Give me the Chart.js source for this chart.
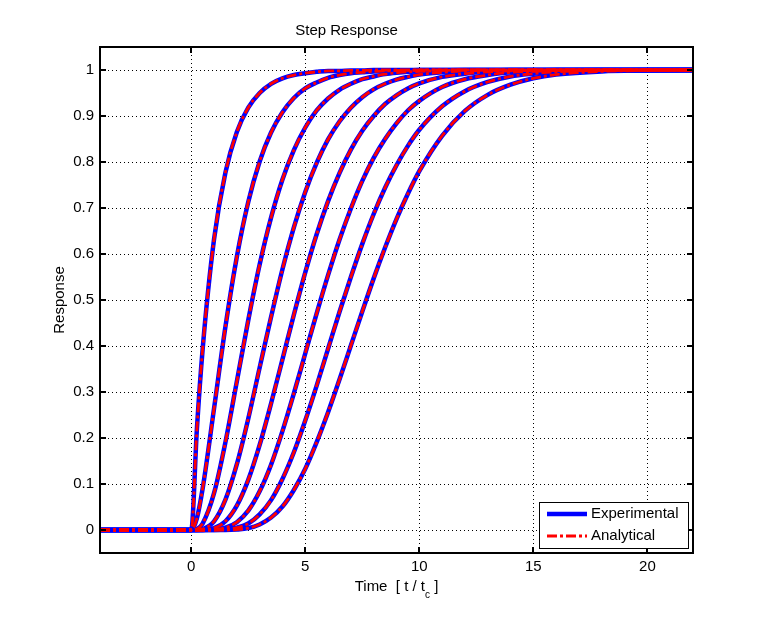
<!DOCTYPE html>
<html>
<head>
<meta charset="utf-8">
<script src="https://cdn.jsdelivr.net/npm/chart.js@4.4.1/dist/chart.umd.min.js"></script>
<style>
  html, body { margin: 0; padding: 0; background: #fff; }
  #wrap { width: 767px; height: 623px; }
</style>
</head>
<body>
<div id="wrap"><canvas id="stepChart" width="767" height="623"></canvas></div>
<script>
// time axis [t / tc], shared by all curves
var time = [-4, 0, 0.25, 0.5, 1, 1.5, 2, 2.5, 3, 3.5, 4, 4.5, 5, 5.5, 6, 6.5, 7, 7.5, 8, 8.5, 9, 9.5, 10, 11, 12, 13, 14, 15, 16, 18, 20, 22];

// step responses (experimental and analytical coincide)
var response1 = [0, 0, 0.221, 0.393, 0.632, 0.777, 0.865, 0.918, 0.950, 0.970, 0.982, 0.989, 0.993, 0.996, 0.998, 0.998, 0.999, 0.999, 1, 1, 1, 1, 1, 1, 1, 1, 1, 1, 1, 1, 1, 1];
var response2 = [0, 0, 0.026, 0.090, 0.264, 0.442, 0.594, 0.713, 0.801, 0.864, 0.908, 0.939, 0.960, 0.973, 0.983, 0.989, 0.993, 0.995, 0.997, 0.998, 0.999, 0.999, 1, 1, 1, 1, 1, 1, 1, 1, 1, 1];
var response3 = [0, 0, 0.002, 0.014, 0.080, 0.191, 0.323, 0.456, 0.577, 0.679, 0.762, 0.826, 0.875, 0.912, 0.938, 0.957, 0.970, 0.980, 0.986, 0.991, 0.994, 0.996, 0.997, 0.999, 1, 1, 1, 1, 1, 1, 1, 1];
var response4 = [0, 0, 0, 0.002, 0.019, 0.066, 0.143, 0.242, 0.353, 0.463, 0.567, 0.658, 0.735, 0.798, 0.849, 0.888, 0.918, 0.941, 0.958, 0.970, 0.979, 0.985, 0.990, 0.995, 0.998, 0.999, 1, 1, 1, 1, 1, 1];
var response5 = [0, 0, 0, 0, 0.004, 0.019, 0.053, 0.109, 0.185, 0.275, 0.371, 0.468, 0.560, 0.643, 0.715, 0.776, 0.827, 0.868, 0.900, 0.926, 0.945, 0.960, 0.971, 0.985, 0.992, 0.996, 0.998, 0.999, 1, 1, 1, 1];
var response6 = [0, 0, 0, 0, 0.001, 0.005, 0.017, 0.042, 0.084, 0.142, 0.215, 0.297, 0.384, 0.471, 0.554, 0.631, 0.699, 0.759, 0.809, 0.850, 0.884, 0.912, 0.933, 0.963, 0.980, 0.989, 0.995, 0.997, 0.999, 1, 1, 1];
var response7 = [0, 0, 0, 0, 0, 0.001, 0.005, 0.014, 0.034, 0.065, 0.111, 0.169, 0.238, 0.314, 0.394, 0.474, 0.550, 0.622, 0.687, 0.744, 0.793, 0.835, 0.870, 0.921, 0.954, 0.974, 0.986, 0.992, 0.996, 0.999, 1, 1];
var response8 = [0, 0, 0, 0, 0, 0, 0.001, 0.004, 0.012, 0.027, 0.051, 0.087, 0.133, 0.191, 0.256, 0.327, 0.401, 0.475, 0.547, 0.614, 0.676, 0.731, 0.780, 0.857, 0.911, 0.946, 0.968, 0.982, 0.990, 0.997, 0.999, 1];

var xTicks = [0, 5, 10, 15, 20];
var yTicks = [0, 0.1, 0.2, 0.3, 0.4, 0.5, 0.6, 0.7, 0.8, 0.9, 1];

var curves = [response1, response2, response3, response4, response5, response6, response7, response8];
var FONT = '"Liberation Sans", Arial, sans-serif';

function toPoints(values) {
    return values.map(function (v, i) { return { x: time[i], y: v }; });
}

var datasets = [];
curves.forEach(function (c, i) {
    datasets.push({
        label: 'Experimental',
        data: toPoints(c),
        borderColor: '#0000ff',
        borderWidth: 4.5,
        order: 2,
        showLegend: i === 0
    });
});
curves.forEach(function (c, i) {
    datasets.push({
        label: 'Analytical',
        data: toPoints(c),
        borderColor: '#ff0000',
        borderWidth: 2.8,
        borderDash: [10, 3, 3, 3],
        order: 1,
        showLegend: i === 0
    });
});

// box, inward ticks, legend and axis labels drawn matlab-style
var matlabFrame = {
    id: 'matlabFrame',
    afterDraw: function (chart) {
        var ctx = chart.ctx, a = chart.chartArea;
        var xs = chart.scales.x, ys = chart.scales.y;
        ctx.save();
        ctx.strokeStyle = '#000';
        ctx.lineWidth = 2;
        ctx.setLineDash([]);
        ctx.strokeRect(a.left, a.top, a.right - a.left, a.bottom - a.top);
        ctx.beginPath();
        xTicks.forEach(function (v) {
            var px = Math.round(xs.getPixelForValue(v));
            ctx.moveTo(px, a.bottom); ctx.lineTo(px, a.bottom - 6);
            ctx.moveTo(px, a.top); ctx.lineTo(px, a.top + 6);
        });
        yTicks.forEach(function (v) {
            var py = Math.round(ys.getPixelForValue(v));
            ctx.moveTo(a.left, py); ctx.lineTo(a.left + 6, py);
            ctx.moveTo(a.right, py); ctx.lineTo(a.right - 6, py);
        });
        ctx.stroke();

        // legend
        var entries = chart.data.datasets.filter(function (d) { return d.showLegend; });
        var bx = a.right - 154, by = a.bottom - 51, bw = 149, bh = 46;
        ctx.fillStyle = '#fff';
        ctx.fillRect(bx, by, bw, bh);
        ctx.lineWidth = 1;
        ctx.strokeRect(bx + 0.5, by + 0.5, bw, bh);
        ctx.font = '15px ' + FONT;
        ctx.textBaseline = 'middle';
        ctx.textAlign = 'left';
        entries.forEach(function (d, i) {
            var ly = by + 12 + i * 22;
            ctx.beginPath();
            ctx.strokeStyle = d.borderColor;
            ctx.lineWidth = d.borderWidth;
            ctx.setLineDash(d.borderDash || []);
            ctx.moveTo(bx + 8, ly); ctx.lineTo(bx + 48, ly);
            ctx.stroke();
            ctx.setLineDash([]);
            ctx.fillStyle = '#000';
            ctx.fillText(d.label, bx + 52, ly);
        });

        // y axis label
        ctx.fillStyle = '#000';
        ctx.save();
        ctx.translate(60, (a.top + a.bottom) / 2);
        ctx.rotate(-Math.PI / 2);
        ctx.textAlign = 'center';
        ctx.fillText('Response', 0, 0);
        ctx.restore();

        // x axis label with subscript
        var main = 'Time  [ t / t', sub = 'c', tail = ' ]';
        ctx.font = '15px ' + FONT;
        var w1 = ctx.measureText(main).width, w3 = ctx.measureText(tail).width;
        ctx.font = '10px ' + FONT;
        var w2 = ctx.measureText(sub).width;
        var x0 = (a.left + a.right) / 2 - (w1 + w2 + w3) / 2, y0 = 587;
        ctx.textAlign = 'left';
        ctx.font = '15px ' + FONT;
        ctx.fillText(main, x0, y0);
        ctx.fillText(tail, x0 + w1 + w2, y0);
        ctx.font = '10px ' + FONT;
        ctx.fillText(sub, x0 + w1, y0 + 8);
        ctx.restore();
    }
};

var ctx = document.getElementById('stepChart').getContext('2d');
var myChart = new Chart(ctx, {
    type: 'line',
    data: { datasets: datasets },
    options: {
        responsive: false,
        animation: false,
        devicePixelRatio: 1,
        layout: { padding: { left: 0, right: 74, top: 0, bottom: 0 } },
        elements: {
            point: { radius: 0 },
            line: { cubicInterpolationMode: 'monotone', fill: false }
        },
        plugins: {
            legend: { display: false },
            tooltip: { enabled: false },
            title: {
                display: true,
                text: 'Step Response',
                color: '#000',
                font: { family: FONT, size: 15, weight: 'normal' },
                padding: { top: 22, bottom: 7 }
            }
        },
        scales: {
            x: {
                type: 'linear',
                min: -4,
                max: 22,
                afterBuildTicks: function (s) { s.ticks = xTicks.map(function (v) { return { value: v }; }); },
                afterFit: function (s) { s.height = 70; },
                ticks: {
                    color: '#000',
                    padding: 5,
                    font: { family: FONT, size: 15 },
                    callback: function (v) { return String(v); }
                },
                grid: { color: '#000', lineWidth: 1, drawTicks: false },
                border: { display: false, dash: [1, 3] }
            },
            y: {
                type: 'linear',
                min: -0.05,
                max: 1.05,
                afterBuildTicks: function (s) { s.ticks = yTicks.map(function (v) { return { value: v }; }); },
                afterFit: function (s) { s.width = 100; },
                ticks: {
                    color: '#000',
                    padding: 6,
                    font: { family: FONT, size: 15 },
                    callback: function (v) { return String(v); }
                },
                grid: { color: '#000', lineWidth: 1, drawTicks: false },
                border: { display: false, dash: [1, 3] }
            }
        }
    },
    plugins: [matlabFrame]
});
</script>
</body>
</html>
